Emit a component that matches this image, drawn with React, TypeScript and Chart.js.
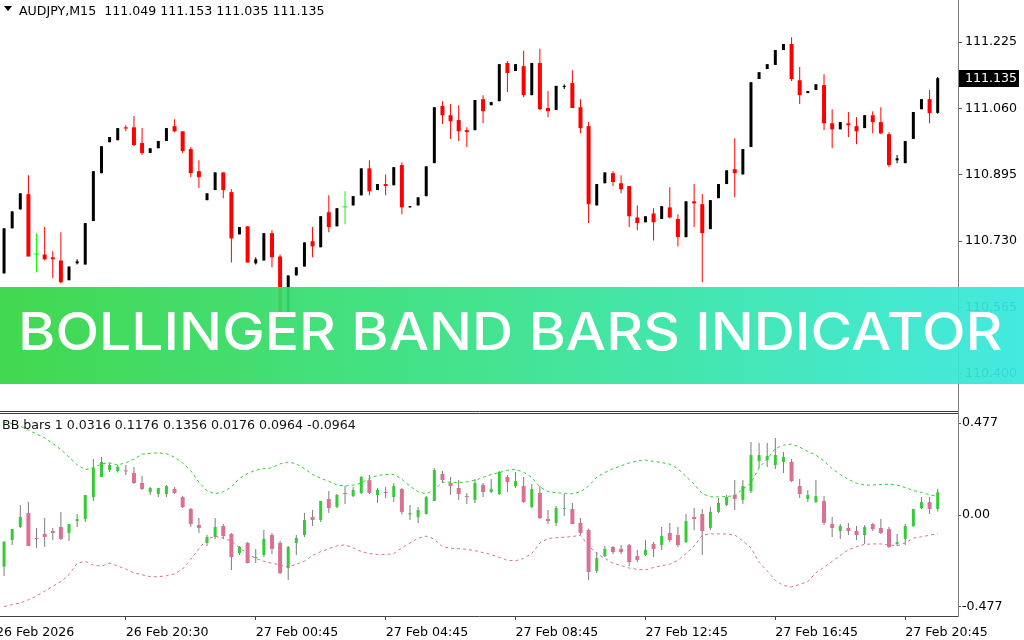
import React, { useEffect, useLayoutEffect, useRef, useState } from 'react';
import { Chart, registerables } from 'chart.js';

Chart.register(...registerables);

// ---------- categories & ticks ----------
const SLOT_COUNT = 118; // 116 bars + 2 empty slots (chart shift)
const categories: string[] = Array.from({ length: SLOT_COUNT }, (_, i) => String(i));
const xTickIndex = [-1, 15, 31, 47, 63, 79, 95, 111];
const xTickLabels = ['26 Feb 2026', '26 Feb 20:30', '27 Feb 00:45', '27 Feb 04:45', '27 Feb 08:45', '27 Feb 12:45', '27 Feb 16:45', '27 Feb 20:45'];
const priceTicks = [111.225, 111.06, 110.895, 110.73, 110.565, 110.4];
const priceTickLabels = ['111.225', '111.060', '110.895', '110.730', '110.565', '110.400'];
const priceMax = 111.3294;
const priceMin = 110.3105;
const bbTicks = [0.477, 0, -0.477];
const bbTickLabels = ['0.477', '0.00', '-0.477'];
const bbMax = 0.5237;
const bbMin = -0.5237;

// ---------- AUDJPY M15 OHLC ----------
const priceOpen = [
  110.650, 110.762, 110.809, 110.847, 110.697, 110.697, 110.690, 110.682, 110.633, 110.675,
  110.672, 110.780, 110.899, 110.976, 110.981, 111.013, 111.013, 110.974, 110.949, 110.961,
  110.979, 111.016, 111.003, 110.959, 110.904, 110.832, 110.857, 110.901, 110.852, 110.747,
  110.767, 110.675, 110.682, 110.750, 110.692, 110.550, 110.645, 110.667, 110.730, 110.715,
  110.802, 110.767, 110.814, 110.819, 110.844, 110.911, 110.857, 110.872, 110.869, 110.919,
  110.814, 110.819, 110.842, 110.924, 111.066, 111.043, 111.031, 111.006, 111.006, 111.083,
  111.068, 111.078, 111.173, 111.153, 111.165, 111.093, 111.173, 111.061, 111.056, 111.113,
  111.123, 111.063, 111.016, 110.819, 110.874, 110.899, 110.874, 110.867, 110.789, 110.777,
  110.799, 110.785, 110.814, 110.785, 110.740, 110.829, 110.822, 110.760, 110.837, 110.872,
  110.909, 110.896, 110.964, 111.133, 111.158, 111.168, 111.205, 111.220, 111.130, 111.098,
  111.106, 111.118, 111.023, 111.008, 111.023, 111.016, 111.011, 111.043, 111.026, 110.996,
  110.931, 110.924, 110.984, 111.058, 111.083, 111.049,
];
const priceHigh = [
  110.762, 110.804, 110.849, 110.894, 110.750, 110.765, 110.705, 110.752, 110.667, 110.685,
  110.775, 110.904, 110.966, 110.989, 111.011, 111.018, 111.041, 111.011, 110.961, 110.979,
  111.011, 111.033, 111.003, 110.964, 110.931, 110.849, 110.901, 110.901, 110.859, 110.765,
  110.767, 110.690, 110.750, 110.757, 110.697, 110.645, 110.665, 110.727, 110.765, 110.792,
  110.844, 110.812, 110.854, 110.842, 110.911, 110.931, 110.872, 110.896, 110.914, 110.926,
  110.817, 110.839, 110.916, 111.063, 111.078, 111.071, 111.068, 111.013, 111.081, 111.093,
  111.076, 111.170, 111.178, 111.170, 111.203, 111.173, 111.208, 111.103, 111.116, 111.120,
  111.155, 111.083, 111.026, 110.872, 110.901, 110.904, 110.894, 110.867, 110.819, 110.792,
  110.812, 110.817, 110.864, 110.797, 110.829, 110.872, 110.847, 110.832, 110.872, 110.906,
  110.986, 110.959, 111.125, 111.150, 111.170, 111.205, 111.220, 111.237, 111.163, 111.103,
  111.120, 111.145, 111.058, 111.026, 111.051, 111.038, 111.043, 111.053, 111.063, 111.001,
  110.944, 110.979, 111.051, 111.083, 111.106, 111.138,
];
const priceLow = [
  110.650, 110.762, 110.809, 110.692, 110.652, 110.682, 110.638, 110.625, 110.633, 110.672,
  110.672, 110.780, 110.899, 110.976, 110.981, 111.003, 110.966, 110.944, 110.949, 110.961,
  110.979, 111.001, 110.949, 110.889, 110.862, 110.832, 110.857, 110.837, 110.677, 110.747,
  110.677, 110.672, 110.682, 110.665, 110.545, 110.545, 110.645, 110.667, 110.690, 110.715,
  110.752, 110.767, 110.772, 110.819, 110.844, 110.844, 110.857, 110.844, 110.869, 110.797,
  110.814, 110.819, 110.842, 110.924, 111.021, 110.984, 110.979, 110.964, 111.006, 111.023,
  111.068, 111.078, 111.101, 111.153, 111.088, 111.093, 111.056, 111.038, 111.056, 111.108,
  111.061, 110.998, 110.775, 110.819, 110.874, 110.867, 110.849, 110.765, 110.757, 110.777,
  110.732, 110.785, 110.787, 110.717, 110.740, 110.765, 110.628, 110.760, 110.837, 110.872,
  110.839, 110.896, 110.964, 111.133, 111.158, 111.168, 111.205, 111.128, 111.071, 111.098,
  111.106, 111.006, 110.961, 111.008, 110.989, 110.971, 111.011, 110.998, 110.996, 110.914,
  110.924, 110.924, 110.984, 111.058, 111.023, 111.047,
];
const priceClose = [
  110.762, 110.804, 110.849, 110.692, 110.697, 110.685, 110.685, 110.628, 110.667, 110.680,
  110.775, 110.904, 110.966, 110.989, 111.011, 111.010, 110.969, 110.949, 110.961, 110.979,
  111.011, 111.003, 110.954, 110.899, 110.889, 110.849, 110.901, 110.857, 110.737, 110.765,
  110.677, 110.685, 110.750, 110.690, 110.550, 110.645, 110.665, 110.727, 110.717, 110.792,
  110.765, 110.812, 110.814, 110.842, 110.911, 110.854, 110.872, 110.867, 110.914, 110.814,
  110.817, 110.839, 110.916, 111.063, 111.043, 111.028, 111.003, 111.001, 111.081, 111.053,
  111.076, 111.170, 111.148, 111.170, 111.093, 111.173, 111.058, 111.053, 111.116, 111.116,
  111.061, 111.011, 110.822, 110.872, 110.901, 110.877, 110.859, 110.792, 110.775, 110.792,
  110.777, 110.817, 110.789, 110.740, 110.829, 110.824, 110.750, 110.832, 110.872, 110.906,
  110.899, 110.959, 111.125, 111.150, 111.170, 111.205, 111.220, 111.133, 111.093, 111.103,
  111.120, 111.023, 111.008, 111.026, 111.018, 111.003, 111.043, 111.026, 110.998, 110.919,
  110.936, 110.979, 111.051, 111.083, 111.048, 111.135,
];

// ---------- BB bars indicator ----------
const bbOpen = [
  -0.268, -0.130, -0.062, 0.010, -0.119, -0.098, -0.083, -0.062, -0.093, -0.031,
  -0.021, 0.093, 0.197, 0.233, 0.228, 0.230, 0.218, 0.166, 0.119, 0.109,
  0.109, 0.135, 0.093, 0.031, -0.052, -0.145, -0.114, -0.057, -0.098, -0.197,
  -0.145, -0.223, -0.207, -0.104, -0.145, -0.275, -0.145, -0.104, -0.010, -0.026,
  0.083, 0.041, 0.112, 0.098, 0.114, 0.181, 0.104, 0.119, 0.093, 0.135,
  0.000, -0.010, 0.005, 0.073, 0.213, 0.166, 0.140, 0.098, 0.078, 0.156,
  0.119, 0.109, 0.197, 0.150, 0.150, 0.041, 0.114, -0.021, -0.041, 0.031,
  0.031, -0.041, -0.078, -0.290, -0.213, -0.166, -0.176, -0.156, -0.213, -0.207,
  -0.150, -0.156, -0.093, -0.104, -0.140, -0.010, 0.005, -0.067, 0.016, 0.052,
  0.104, 0.078, 0.124, 0.280, 0.285, 0.259, 0.275, 0.275, 0.150, 0.083,
  0.067, 0.073, -0.047, -0.083, -0.067, -0.083, -0.104, -0.047, -0.067, -0.073,
  -0.150, -0.124, -0.057, 0.036, 0.067, 0.0316,
];
const bbHigh = [
  -0.138, -0.073, 0.052, 0.067, -0.067, -0.016, -0.067, 0.016, -0.047, 0.005,
  0.104, 0.290, 0.301, 0.270, 0.259, 0.259, 0.249, 0.202, 0.145, 0.140,
  0.156, 0.145, 0.098, 0.036, -0.016, -0.104, -0.016, -0.047, -0.093, -0.161,
  -0.140, -0.176, -0.078, -0.093, -0.135, -0.161, -0.104, 0.010, 0.026, 0.073,
  0.124, 0.109, 0.150, 0.145, 0.202, 0.207, 0.140, 0.145, 0.166, 0.140,
  0.052, 0.041, 0.098, 0.244, 0.228, 0.197, 0.181, 0.114, 0.187, 0.166,
  0.187, 0.228, 0.207, 0.223, 0.197, 0.161, 0.150, 0.026, 0.047, 0.109,
  0.062, -0.016, -0.070, -0.192, -0.161, -0.161, -0.156, -0.150, -0.181, -0.130,
  -0.140, -0.062, -0.041, -0.062, 0.005, 0.036, 0.031, 0.041, 0.088, 0.104,
  0.181, 0.181, 0.378, 0.373, 0.373, 0.399, 0.327, 0.290, 0.187, 0.130,
  0.181, 0.098, -0.010, -0.047, -0.041, -0.057, -0.052, -0.041, -0.021, -0.062,
  -0.098, -0.047, 0.031, 0.093, 0.093, 0.1356,
];
const bbLow = [
  -0.316, -0.156, -0.067, -0.161, -0.171, -0.166, -0.130, -0.130, -0.135, -0.062,
  -0.036, 0.073, 0.197, 0.223, 0.220, 0.207, 0.161, 0.130, 0.104, 0.093,
  0.093, 0.109, 0.036, -0.062, -0.093, -0.161, -0.124, -0.124, -0.285, -0.207,
  -0.252, -0.249, -0.218, -0.202, -0.306, -0.337, -0.207, -0.114, -0.057, -0.036,
  0.010, 0.036, 0.057, 0.093, 0.109, 0.109, 0.062, 0.088, 0.067, 0.000,
  -0.026, -0.041, 0.000, 0.073, 0.166, 0.104, 0.078, 0.057, 0.062, 0.093,
  0.114, 0.104, 0.119, 0.140, 0.062, 0.036, -0.021, -0.047, -0.057, -0.005,
  -0.047, -0.104, -0.337, -0.301, -0.218, -0.202, -0.202, -0.264, -0.244, -0.213,
  -0.218, -0.181, -0.140, -0.166, -0.145, -0.078, -0.207, -0.078, 0.010, 0.047,
  0.026, 0.057, 0.114, 0.244, 0.249, 0.238, 0.218, 0.171, 0.088, 0.067,
  0.062, -0.052, -0.114, -0.124, -0.104, -0.130, -0.150, -0.083, -0.098, -0.171,
  -0.161, -0.156, -0.062, 0.031, 0.005, 0.0176,
];
const bbClose = [
  -0.138, -0.073, -0.010, -0.161, -0.121, -0.114, -0.093, -0.124, -0.047, -0.021,
  0.104, 0.244, 0.275, 0.259, 0.249, 0.226, 0.166, 0.135, 0.140, 0.140,
  0.150, 0.114, 0.041, -0.047, -0.067, -0.114, -0.062, -0.109, -0.218, -0.166,
  -0.249, -0.218, -0.124, -0.176, -0.301, -0.166, -0.119, -0.026, -0.026, 0.073,
  0.036, 0.104, 0.109, 0.130, 0.197, 0.114, 0.130, 0.114, 0.150, 0.016,
  0.010, 0.026, 0.093, 0.233, 0.181, 0.150, 0.109, 0.093, 0.166, 0.119,
  0.135, 0.223, 0.171, 0.176, 0.067, 0.135, -0.016, -0.031, 0.036, 0.036,
  -0.047, -0.093, -0.295, -0.223, -0.176, -0.192, -0.192, -0.244, -0.233, -0.181,
  -0.176, -0.109, -0.130, -0.156, -0.031, -0.021, -0.083, 0.016, 0.062, 0.093,
  0.083, 0.150, 0.311, 0.311, 0.306, 0.311, 0.301, 0.176, 0.109, 0.104,
  0.098, -0.041, -0.067, -0.057, -0.083, -0.104, -0.062, -0.073, -0.093, -0.166,
  -0.140, -0.057, 0.031, 0.067, 0.031, 0.1176,
];
const bbUpper = [
  0.480, 0.475, 0.460, 0.440, 0.420, 0.400, 0.370, 0.340, 0.300, 0.260,
  0.235, 0.245, 0.265, 0.270, 0.260, 0.270, 0.290, 0.315, 0.320, 0.322,
  0.318, 0.300, 0.270, 0.230, 0.170, 0.125, 0.110, 0.120, 0.145, 0.190,
  0.215, 0.232, 0.240, 0.245, 0.265, 0.275, 0.265, 0.240, 0.210, 0.190,
  0.175, 0.156, 0.150, 0.155, 0.165, 0.190, 0.205, 0.210, 0.210, 0.185,
  0.150, 0.120, 0.110, 0.130, 0.170, 0.170, 0.168, 0.172, 0.180, 0.195,
  0.210, 0.220, 0.232, 0.236, 0.222, 0.195, 0.145, 0.122, 0.115, 0.113,
  0.110, 0.120, 0.150, 0.197, 0.220, 0.240, 0.255, 0.270, 0.280, 0.285,
  0.278, 0.272, 0.264, 0.240, 0.200, 0.160, 0.110, 0.095, 0.094, 0.096,
  0.100, 0.135, 0.165, 0.245, 0.290, 0.345, 0.362, 0.368, 0.352, 0.330,
  0.310, 0.280, 0.240, 0.210, 0.185, 0.165, 0.155, 0.155, 0.158, 0.160,
  0.155, 0.143, 0.127, 0.117, 0.105, 0.0964,
];
const bbLower = [
  -0.475, -0.465, -0.456, -0.440, -0.420, -0.395, -0.370, -0.345, -0.310, -0.250,
  -0.240, -0.260, -0.265, -0.250, -0.265, -0.280, -0.300, -0.310, -0.320, -0.320,
  -0.315, -0.305, -0.280, -0.230, -0.175, -0.125, -0.110, -0.120, -0.135, -0.170,
  -0.200, -0.225, -0.240, -0.250, -0.260, -0.270, -0.255, -0.240, -0.210, -0.190,
  -0.175, -0.160, -0.155, -0.170, -0.190, -0.200, -0.205, -0.205, -0.200, -0.170,
  -0.145, -0.120, -0.110, -0.125, -0.165, -0.172, -0.175, -0.178, -0.185, -0.195,
  -0.205, -0.220, -0.235, -0.238, -0.225, -0.200, -0.145, -0.122, -0.118, -0.115,
  -0.112, -0.105, -0.160, -0.200, -0.225, -0.250, -0.262, -0.275, -0.282, -0.285,
  -0.272, -0.263, -0.255, -0.235, -0.200, -0.160, -0.105, -0.098, -0.098, -0.099,
  -0.103, -0.135, -0.170, -0.245, -0.290, -0.340, -0.365, -0.373, -0.360, -0.345,
  -0.300, -0.270, -0.240, -0.210, -0.180, -0.165, -0.152, -0.150, -0.150, -0.155,
  -0.160, -0.145, -0.120, -0.113, -0.105, -0.0964,
];

const FONT = '"DejaVu Sans", Verdana, sans-serif';
const FONT_SIZE = 12.6;

type Range = [number, number] | null;

function splitCandles(open: number[], high: number[], low: number[], close: number[]) {
  const wick: Range[] = [];
  const bull: Range[] = [];
  const bear: Range[] = [];
  const doji: Range[] = [];
  const kind: string[] = [];
  for (let i = 0; i < open.length; i++) {
    const o = open[i];
    const c = close[i];
    wick.push([low[i], high[i]]);
    if (c > o) {
      bull.push([o, c]); bear.push(null); doji.push(null); kind.push('bull');
    } else if (c < o) {
      bull.push(null); bear.push([c, o]); doji.push(null); kind.push('bear');
    } else {
      bull.push(null); bear.push(null); doji.push([o, c]); kind.push('doji');
    }
  }
  return { wick, bull, bear, doji, kind };
}

function barSet(label: string, data: Range[], color: any, thickness: number, order: number) {
  return {
    type: 'bar' as const,
    label,
    data,
    backgroundColor: color,
    borderWidth: 0,
    barThickness: thickness,
    grouped: false,
    minBarLength: 1,
    inflateAmount: 0,
    order,
  };
}

const topFramePlugin = {
  id: 'topFrame',
  afterDraw(chart: any) {
    const { ctx, chartArea } = chart;
    const x = Math.round(chartArea.right) + 0.5;
    ctx.save();
    ctx.strokeStyle = '#7d7d7d';
    ctx.lineWidth = 1;
    ctx.beginPath();
    ctx.moveTo(x, 0);
    ctx.lineTo(x, chart.height);
    ctx.stroke();
    // current price box
    const last = priceClose[priceClose.length - 1];
    const y = Math.round(chart.scales.y.getPixelForValue(last));
    ctx.fillStyle = '#000';
    ctx.fillRect(x + 0.5, y - 8, 60, 17);
    ctx.fillStyle = '#fff';
    ctx.font = `${FONT_SIZE}px ${FONT}`;
    ctx.textBaseline = 'middle';
    ctx.textAlign = 'left';
    ctx.fillText(last.toFixed(3), x + 6.5, y + 0.5);
    ctx.restore();
  },
};

const bottomFramePlugin = {
  id: 'bottomFrame',
  afterDraw(chart: any) {
    const { ctx, chartArea } = chart;
    const x = Math.round(chartArea.right) + 0.5;
    const yb = Math.round(chartArea.bottom) + 0.5;
    ctx.save();
    ctx.lineWidth = 1;
    ctx.strokeStyle = '#3c3c3c';
    ctx.beginPath();
    ctx.moveTo(0, 1.5); ctx.lineTo(x, 1.5);
    ctx.moveTo(0, 3.5); ctx.lineTo(x, 3.5);
    ctx.stroke();
    ctx.strokeStyle = '#444';
    ctx.beginPath();
    ctx.moveTo(0, yb); ctx.lineTo(x, yb);
    ctx.stroke();
    ctx.strokeStyle = '#7d7d7d';
    ctx.beginPath();
    ctx.moveTo(x, 0); ctx.lineTo(x, yb);
    ctx.stroke();
    ctx.restore();
  },
};

function Banner() {
  const ref = useRef<HTMLSpanElement>(null);
  const [sx, setSx] = useState(1);
  useLayoutEffect(() => {
    if (ref.current) {
      const w = ref.current.offsetWidth;
      if (w > 0) setSx(985 / w);
    }
  }, []);
  return (
    <div style={{ position: 'absolute', left: 0, top: 287, width: 1024, height: 97, background: 'linear-gradient(90deg, rgba(52,213,66,0.93) 0%, rgba(54,226,140,0.93) 50%, rgba(54,232,222,0.93) 100%)' }}>
      <div style={{ position: 'absolute', left: 0, top: 19, width: 1021, textAlign: 'center', lineHeight: '52px', whiteSpace: 'nowrap' }}>
        <span ref={ref} style={{ display: 'inline-block', fontFamily: 'Inter, "Noto Sans", sans-serif', fontWeight: 500, fontSize: 52, color: '#fff', transform: `scaleX(${sx})`, transformOrigin: 'center' }}>
          BOLLINGER BAND BARS INDICATOR
        </span>
      </div>
    </div>
  );
}

export default function App() {
  const topRef = useRef<HTMLCanvasElement>(null);
  const botRef = useRef<HTMLCanvasElement>(null);

  useEffect(() => {
    document.body.style.margin = '0';
    const top = splitCandles(priceOpen, priceHigh, priceLow, priceClose);
    const bot = splitCandles(bbOpen, bbHigh, bbLow, bbClose);
    const topWickColors = top.kind.map((k) => (k === 'bull' ? '#000000' : k === 'bear' ? '#ff0000' : '#00ff00'));

    const topChart = new Chart(topRef.current as HTMLCanvasElement, {
      type: 'bar',
      data: {
        labels: categories,
        datasets: [
          barSet('wick', top.wick, topWickColors, 1, 3),
          barSet('bull', top.bull, '#000000', 3, 1),
          barSet('bear', top.bear, '#ff0000', 4, 1),
          barSet('doji', top.doji, '#00ff00', 5, 1),
        ] as any,
      },
      options: {
        responsive: false,
        animation: false,
        events: [],
        layout: { padding: 0, autoPadding: false },
        plugins: { legend: { display: false }, tooltip: { enabled: false }, title: { display: false } },
        scales: {
          x: { type: 'category', offset: true, display: false },
          y: {
            type: 'linear',
            position: 'right',
            min: priceMin,
            max: priceMax,
            bounds: 'data',
            afterBuildTicks: (s: any) => { s.ticks = priceTicks.map((v) => ({ value: v })); },
            afterFit: (s: any) => { s.width = 66; s.paddingTop = 0; s.paddingBottom = 0; },
            grid: { drawOnChartArea: false, drawTicks: true, tickLength: 4, tickColor: '#555' },
            border: { display: false },
            ticks: {
              padding: 3,
              color: '#000',
              font: { family: FONT, size: FONT_SIZE },
              callback: (_v: any, i: number) => priceTickLabels[i],
            },
          },
        },
      } as any,
      plugins: [topFramePlugin],
    });

    const botChart = new Chart(botRef.current as HTMLCanvasElement, {
      type: 'bar',
      data: {
        labels: categories,
        datasets: [
          {
            type: 'line', label: 'upper', data: bbUpper, borderColor: '#32cd32', borderWidth: 1,
            borderDash: [3, 3], pointRadius: 0, tension: 0, fill: false, order: 0,
          },
          {
            type: 'line', label: 'lower', data: bbLower, borderColor: '#db7093', borderWidth: 1,
            borderDash: [3, 3], pointRadius: 0, tension: 0, fill: false, order: 0,
          },
          barSet('wick', bot.wick, '#7c7c7c', 1, 3),
          barSet('bull', bot.bull, '#32cd32', 3, 1),
          barSet('bear', bot.bear, '#db7093', 4, 1),
          barSet('doji', bot.doji, '#db7093', 4, 1),
        ] as any,
      },
      options: {
        responsive: false,
        animation: false,
        events: [],
        layout: { padding: { top: 4, left: 0, right: 0, bottom: 0 }, autoPadding: false },
        plugins: { legend: { display: false }, tooltip: { enabled: false }, title: { display: false } },
        scales: {
          x: {
            type: 'category',
            offset: true,
            position: 'bottom',
            afterBuildTicks: (s: any) => { s.ticks = xTickIndex.map((v) => ({ value: v })); },
            afterFit: (s: any) => { s.height = 24; s.paddingLeft = 0; s.paddingRight = 0; },
            grid: { offset: false, drawOnChartArea: false, drawTicks: true, tickLength: 4, tickColor: '#444' },
            border: { display: false },
            ticks: {
              autoSkip: false,
              maxRotation: 0,
              minRotation: 0,
              align: 'start',
              padding: 5,
              color: '#000',
              font: { family: FONT, size: FONT_SIZE },
              callback: (_v: any, i: number) => xTickLabels[i],
            },
          },
          y: {
            type: 'linear',
            position: 'right',
            min: bbMin,
            max: bbMax,
            bounds: 'data',
            afterBuildTicks: (s: any) => { s.ticks = bbTicks.map((v) => ({ value: v })); },
            afterFit: (s: any) => { s.width = 66; s.paddingTop = 0; s.paddingBottom = 0; },
            grid: { drawOnChartArea: false, drawTicks: true, tickLength: 3, tickColor: '#555' },
            border: { display: false },
            ticks: {
              padding: 1,
              color: '#000',
              font: { family: FONT, size: FONT_SIZE },
              callback: (_v: any, i: number) => bbTickLabels[i],
            },
          },
        },
      } as any,
      plugins: [bottomFramePlugin],
    });

    return () => {
      topChart.destroy();
      botChart.destroy();
    };
  }, []);

  return (
    <div style={{ position: 'fixed', left: 0, top: 0, width: 1024, height: 640, background: '#fff', overflow: 'hidden' }}>
      <canvas ref={topRef} width={1024} height={410} style={{ position: 'absolute', left: 0, top: 0, width: 1024, height: 410 }} />
      <canvas ref={botRef} width={1024} height={230} style={{ position: 'absolute', left: 0, top: 410, width: 1024, height: 230 }} />
      <div style={{ position: 'absolute', left: 4, top: 6, width: 0, height: 0, borderLeft: '4px solid transparent', borderRight: '4px solid transparent', borderTop: '5px solid #000' }} />
      <div style={{ position: 'absolute', left: 19, top: 3, fontFamily: FONT, fontSize: FONT_SIZE, lineHeight: '15px', whiteSpace: 'pre', color: '#000' }}>
        {'AUDJPY,M15  111.049 111.153 111.035 111.135'}
      </div>
      <div style={{ position: 'absolute', left: 2, top: 417, fontFamily: FONT, fontSize: FONT_SIZE, lineHeight: '15px', whiteSpace: 'pre', color: '#111' }}>
        {'BB bars 1 0.0316 0.1176 0.1356 0.0176 0.0964 -0.0964'}
      </div>
      <Banner />
    </div>
  );
}
